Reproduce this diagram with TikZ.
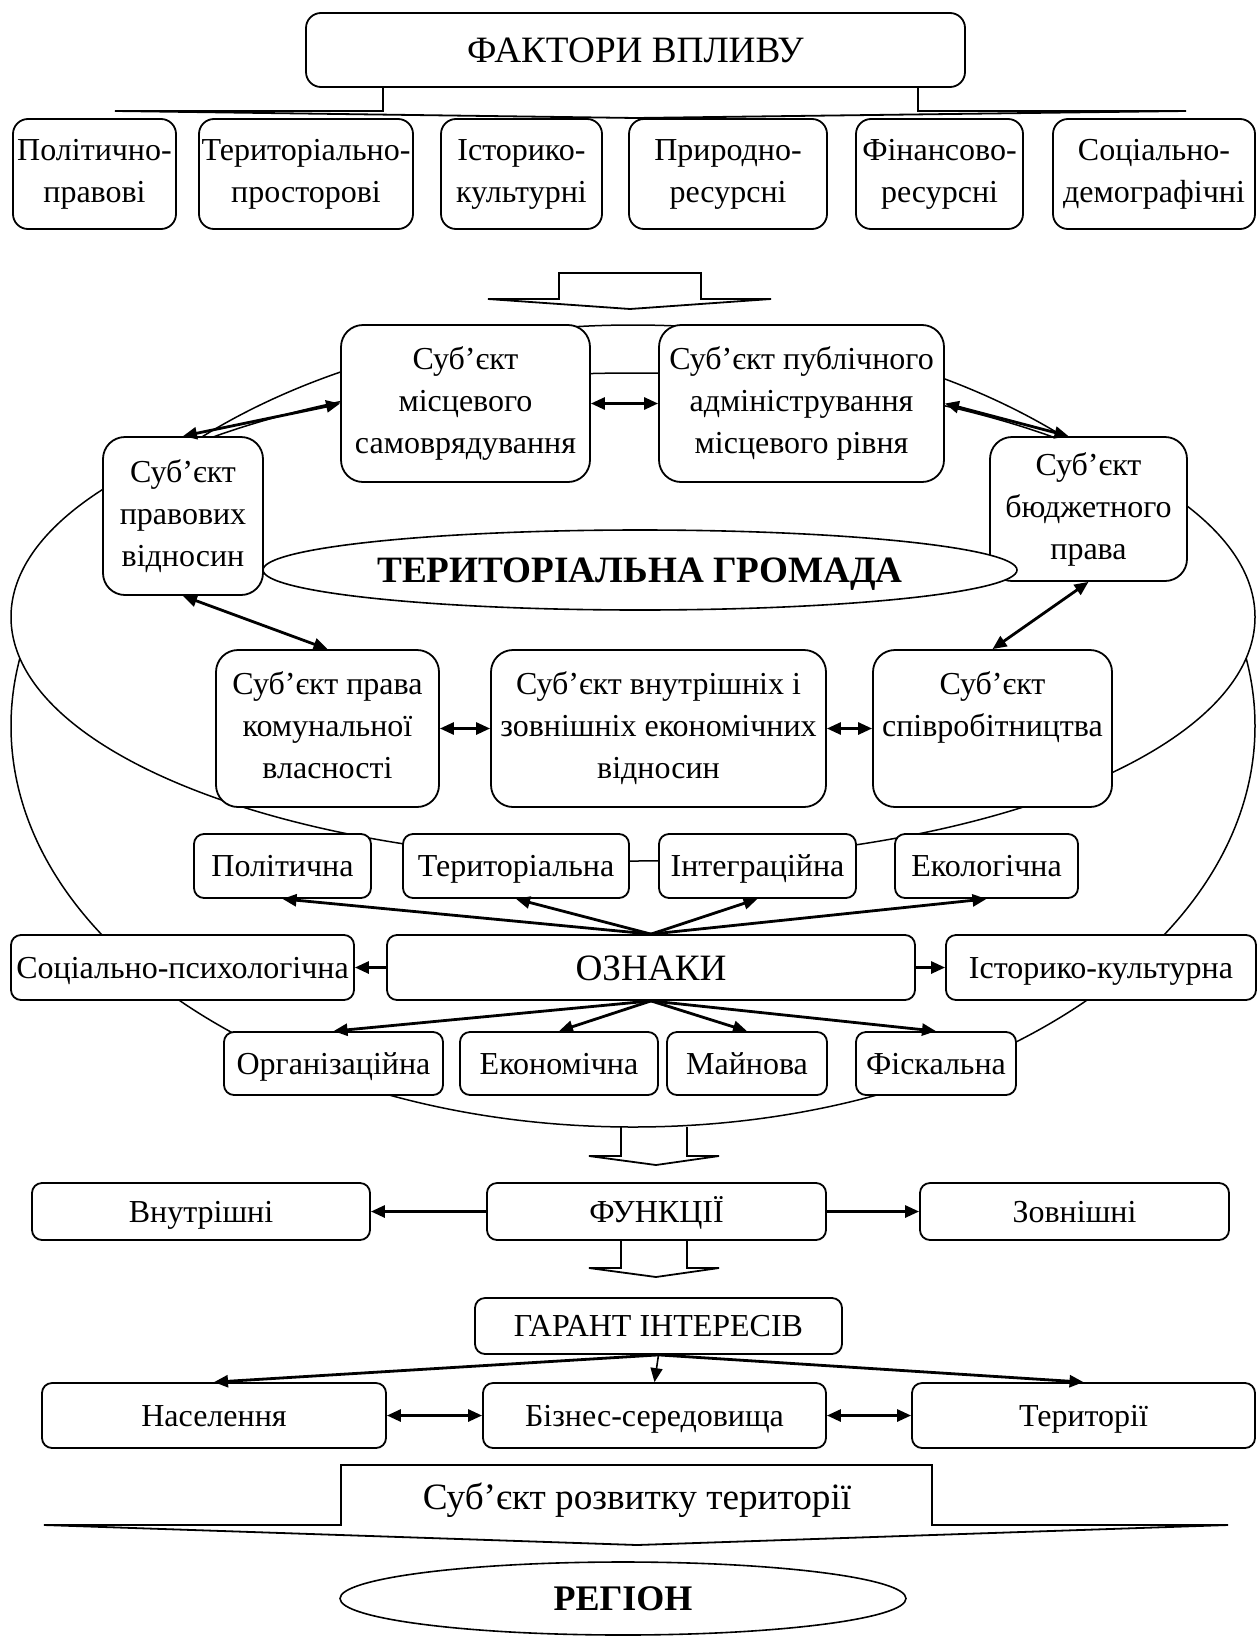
\documentclass[tikz,border=0pt]{standalone}
\usepackage{fontspec}
\setmainfont{Liberation Serif}
\usetikzlibrary{arrows.meta,shapes.geometric}
\newcommand{\fsnorm}{\fontsize{16}{21}\selectfont}
\newcommand{\fsbig}{\fontsize{18.6}{22}\selectfont}
\newcommand{\wstrut}{\rule[-0.216em]{0pt}{1.107em}}
\tikzset{
  box/.style={draw, fill=white, line width=0.9pt, rounded corners=5pt, align=center, inner sep=0pt, font=\fsnorm,
    execute at begin node=\wstrut, execute at end node=\wstrut},
  fbox/.style={box, rounded corners=7.5pt},
  subj/.style={box, rounded corners=11pt},
  sz/.style 2 args={minimum width=#1*0.5pt, minimum height=#2*0.5pt},
  oval/.style={draw, fill=white, ellipse, inner sep=0pt, line width=0.8pt, font=\fsbig\bfseries,
    execute at begin node=\wstrut},
  ring/.style={line width=0.75pt},
  tip/.style={line width=1.4pt, -{Triangle[length=7pt,width=6pt]}},
  twotip/.style={line width=1.4pt, {Triangle[length=7pt,width=6pt]}-{Triangle[length=7pt,width=6pt]}},
  blockarrow/.style={draw, line width=0.9pt, line join=miter}
}
\begin{document}
\begin{tikzpicture}[x=0.5pt, y=-0.5pt]
\useasboundingbox (0,0) rectangle (1257,1638);
\draw[ring] (633,726) ellipse [x radius=622, y radius=401];
\draw[ring, fill=white] (633,617) ellipse [x radius=622, y radius=244];

\node[fbox, sz={659}{74}, font=\fsbig] (fak) at (635.5,50) {ФАКТОРИ ВПЛИВУ};
\draw[blockarrow] (383,87) -- (383,111) -- (115,111) -- (636,118) -- (1186,111) -- (918,111) -- (918,87);
\node[fbox, sz={163}{110}] (pp) at (94.5,174) {Політично-\\правові};
\node[fbox, sz={214}{110}] (tp) at (306,174) {Територіально-\\просторові};
\node[fbox, sz={161}{110}] (ik) at (521.5,174) {Історико-\\культурні};
\node[fbox, sz={198}{110}] (pr) at (728,174) {Природно-\\ресурсні};
\node[fbox, sz={167}{110}] (fr) at (939.5,174) {Фінансово-\\ресурсні};
\node[fbox, sz={202}{110}] (sd) at (1154,174) {Соціально-\\демографічні};
\draw[blockarrow] (559,299) -- (559,273) -- (701,273) -- (701,299) -- (771,299) -- (630,309) -- (488,299) -- cycle;

\node[subj, sz={249}{157}] (msv) at (465.5,403.5) {Суб’єкт\\місцевого\\самоврядування};
\node[subj, sz={285}{157}] (pub) at (801.5,403.5) {Суб’єкт публічного\\адміністрування\\місцевого рівня};
\node[subj, sz={160}{158}] (prv) at (183,516) {Суб’єкт\\правових\\відносин};
\node[subj, sz={197}{144}] (bud) at (1088.5,509) {Суб’єкт\\бюджетного\\права};
\node[oval, sz={754}{80}] (hrom) at (640,570) {ТЕРИТОРІАЛЬНА ГРОМАДА};
\node[subj, sz={223}{157}] (kom) at (327.5,728.5) {Суб’єкт права\\комунальної\\власності};
\node[subj, sz={335}{157}] (eko) at (658.5,728.5) {Суб’єкт внутрішніх і\\зовнішніх економічних\\відносин};
\node[subj, sz={239}{157}] (spv) at (992.5,728.5) {Суб’єкт\\співробітництва\\};
\draw[twotip] (msv) -- (pub);
\draw[twotip] (prv.north) -- (msv.west);
\draw[twotip] (pub.east) -- ([xshift=-10pt]bud.north);
\draw[twotip] (prv.south) -- (kom.north);
\draw[twotip] (bud.south) -- (spv.north);
\draw[twotip] (kom) -- (eko);
\draw[twotip] (eko) -- (spv);

\node[box, sz={177}{64}] (pol) at (282.5,866) {Політична};
\node[box, sz={226}{64}] (ter) at (516,866) {Територіальна};
\node[box, sz={197}{64}] (int) at (757.5,866) {Інтеграційна};
\node[box, sz={183}{64}] (ekl) at (986.5,866) {Екологічна};
\node[box, sz={343}{65}] (sps) at (182.5,967.5) {Соціально-психологічна};
\node[box, sz={528}{65}, font=\fsbig] (ozn) at (651,967.5) {ОЗНАКИ};
\node[box, sz={310}{65}] (ist) at (1101,967.5) {Історико-культурна};
\node[box, sz={219}{63}] (org) at (333.5,1063.5) {Організаційна};
\node[box, sz={198}{63}] (ekn) at (559,1063.5) {Економічна};
\node[box, sz={160}{63}] (mai) at (747,1063.5) {Майнова};
\node[box, sz={160}{63}] (fis) at (936,1063.5) {Фіскальна};
\foreach \n in {pol,ter,int,ekl}
\draw[tip] (ozn.north) -- (\n.south);
\foreach \n in {org,ekn,mai,fis}
\draw[tip] (ozn.south) -- (\n.north);
\draw[tip] (ozn) -- (sps);
\draw[tip] (ozn) -- (ist);
\draw[blockarrow] (621,1127) -- (621,1156) -- (589,1156) -- (656,1165) -- (719,1156) -- (687,1156) -- (687,1127);

\node[box, sz={338}{57}] (vnu) at (201,1211.5) {Внутрішні};
\node[box, sz={339}{57}] (fun) at (656.5,1211.5) {ФУНКЦІЇ};
\node[box, sz={309}{57}] (zov) at (1074.5,1211.5) {Зовнішні};
\draw[tip] (fun) -- (vnu);
\draw[tip] (fun) -- (zov);
\draw[blockarrow] (621,1240) -- (621,1268) -- (589,1268) -- (656,1277) -- (719,1268) -- (687,1268) -- (687,1240);

\node[box, sz={367}{56}] (gar) at (658.5,1326) {ГАРАНТ ІНТЕРЕСІВ};
\node[box, sz={344}{65}] (nas) at (214,1415.5) {Населення};
\node[box, sz={343}{65}] (biz) at (654.5,1415.5) {Бізнес-середовища};
\node[box, sz={343}{65}] (trt) at (1083.5,1415.5) {Території};
\draw[tip] (gar.south) -- (nas.north);
\draw[tip, line width=0.8pt] (gar.south) -- (biz.north);
\draw[tip] (gar.south) -- (trt.north);
\draw[twotip] (nas) -- (biz);
\draw[twotip] (biz) -- (trt);

\draw[blockarrow] (341,1525) -- (341,1465) -- (932,1465) -- (932,1525) -- (1228,1525) -- (637,1545) -- (44,1525) -- cycle;
\node[font=\fsbig, inner sep=0pt, execute at begin node=\wstrut] (rozv) at (637,1497) {Суб’єкт розвитку території};
\node[oval, sz={566}{73}, font=\fontsize{18}{22}\selectfont\bfseries] (reg) at (623,1598.5) {РЕГІОН};
\end{tikzpicture}
\end{document}
